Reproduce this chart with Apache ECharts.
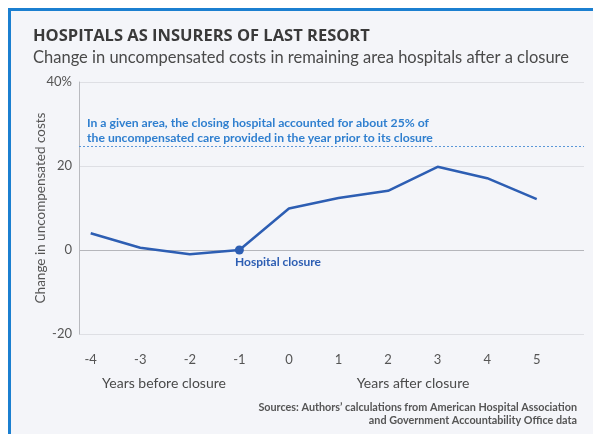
<!DOCTYPE html>
<html>
<head>
<meta charset="utf-8">
<script src="https://cdn.jsdelivr.net/npm/echarts@6/dist/echarts.min.js"></script>
<style>
  html, body { margin: 0; padding: 0; background: #fff; }
  .frame {
    position: absolute; left: 8px; top: 8px; width: 585px; height: 426px;
    background: #f4f5f9; border-left: 3px solid #1b7fd0; border-top: 3px solid #1b7fd0;
    box-sizing: border-box;
  }
  #chart { position: absolute; left: 0; top: 0; width: 593px; height: 434px; }
</style>
</head>
<body>
<div class="frame"></div>
<div id="chart"></div>
<script>
// years relative to the closure, and change in uncompensated costs (%)
var years = [-4, -3, -2, -1, 0, 1, 2, 3, 4, 5]
var costChange = [4.0, 0.55, -1.0, 0, 9.9, 12.4, 14.1, 19.8, 17.1, 12.1]
var yTicks = [-20, 0, 20, 40]
var closureShare = 24.6

var FONT = 'Lato, "Source Sans Pro", sans-serif'

var lineData = years.map(function (y, i) {
  var item = { value: [y, costChange[i]] }
  // mark the closure year with a dot
  if (y === -1) {
    item.symbol = 'circle'
    item.symbolSize = 9
  }
  return item
})

var chart = echarts.init(document.getElementById('chart'))
var option = {
  backgroundColor: 'transparent',
  textStyle: { fontFamily: FONT },
  grid: { left: 79, top: 82, right: 9, bottom: 100 },
  xAxis: {
    type: 'value',
    min: -4.236,
    max: 5.954,
    axisLine: { show: false },
    axisTick: { show: false },
    splitLine: { show: false },
    axisLabel: {
      customValues: years,
      color: '#555',
      fontSize: 13,
      margin: 19,
      fontFamily: FONT
    }
  },
  yAxis: {
    type: 'value',
    min: yTicks[0],
    max: yTicks[yTicks.length - 1],
    interval: 20,
    name: 'Change in uncompensated costs',
    nameLocation: 'middle',
    nameGap: 31,
    nameMoveOverlap: false,
    nameTextStyle: { color: '#555', fontSize: 13.5, fontFamily: FONT },
    axisLine: { show: true, onZero: false, lineStyle: { color: '#b9babf', width: 1 } },
    axisTick: { show: false },
    axisLabel: {
      color: '#555',
      fontSize: 13,
      margin: 7,
      fontFamily: FONT,
      formatter: function (v) { return v === 40 ? '40%' : String(v) }
    },
    splitLine: {
      show: true,
      lineStyle: { color: ['#dedfe4', '#b5b6bb', '#dedfe4', '#dedfe4'], width: 1 }
    }
  },
  series: [
    {
      type: 'line',
      data: lineData,
      symbol: 'none',
      showSymbol: true,
      lineStyle: { color: '#2d5eb3', width: 2.5 },
      itemStyle: { color: '#2d5eb3' },
      silent: true,
      z: 3,
      markLine: {
        silent: true,
        symbol: ['none', 'none'],
        label: { show: false },
        lineStyle: { color: '#5a97d8', type: [2, 2], width: 1 },
        data: [{ yAxis: closureShare }]
      }
    }
  ],
  graphic: [
    {
      type: 'text', x: 33, y: 36,
      style: { text: 'HOSPITALS AS INSURERS OF LAST RESORT', fill: '#3a3a3a', font: 'bold 16.5px "Open Sans", sans-serif', verticalAlign: 'middle' }
    },
    {
      type: 'text', x: 33, y: 58,
      style: { text: 'Change in uncompensated costs in remaining area hospitals after a closure', fill: '#4a4a4a', font: '16.5px ' + FONT, verticalAlign: 'middle' }
    },
    {
      type: 'text', x: 87, y: 116,
      style: {
        text: 'In a given area, the closing hospital accounted for about 25% of\nthe uncompensated care provided in the year prior to its closure',
        fill: '#2f7fcf', font: 'bold 12.2px ' + FONT, lineHeight: 15
      }
    },
    {
      type: 'text', x: 235, y: 256,
      style: { text: 'Hospital closure', fill: '#2d5eb3', font: 'bold 12px ' + FONT }
    },
    {
      type: 'text', x: 164, y: 383,
      style: { text: 'Years before closure', fill: '#4a4a4a', font: '14px ' + FONT, align: 'center', verticalAlign: 'middle' }
    },
    {
      type: 'text', x: 413, y: 383,
      style: { text: 'Years after closure', fill: '#4a4a4a', font: '14px ' + FONT, align: 'center', verticalAlign: 'middle' }
    },
    {
      type: 'text', x: 577, y: 401,
      style: {
        text: 'Sources: Authors\u2019 calculations from American Hospital Association\nand Government Accountability Office data',
        fill: '#555', font: 'bold 10.8px ' + FONT, align: 'right', lineHeight: 13
      }
    }
  ]
}
chart.setOption(option)
</script>
</body>
</html>
